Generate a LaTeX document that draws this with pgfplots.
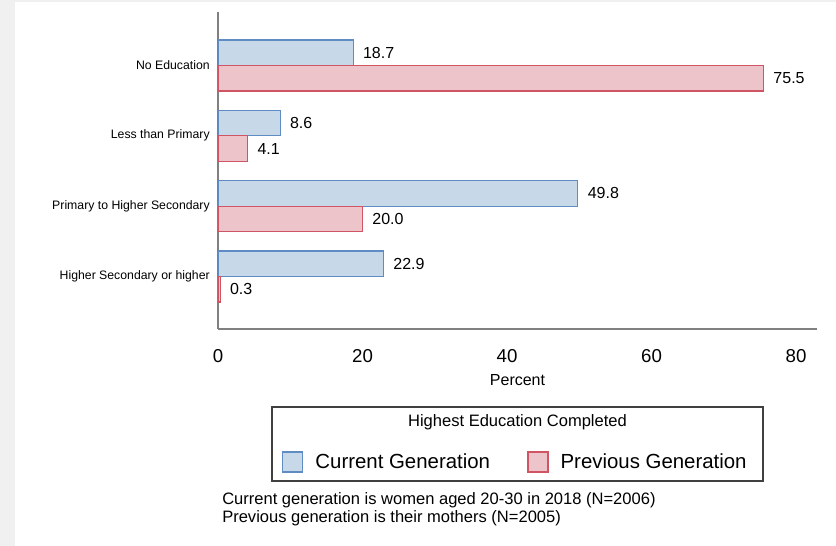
\documentclass[border=0pt]{standalone}
\usepackage{pgfplots}
\pgfplotsset{compat=1.18}
\usepackage{fontspec}
\setmainfont{Liberation Sans}

\definecolor{curfill}{RGB}{199,216,232}
\definecolor{curedge}{RGB}{95,140,195}
\definecolor{prevfill}{RGB}{236,196,201}
\definecolor{prevedge}{RGB}{208,85,100}
\definecolor{axgray}{RGB}{128,128,128}

\begin{document}
\begin{tikzpicture}
% page background (1 unit = 1 px of the reference)
\begin{scope}[x=0.75pt,y=0.75pt]
  \fill[black!6] (0,0) rectangle (836,546);
  \fill[white] (15,0) rectangle (836,544);
\end{scope}

\begin{axis}[
    at={(163.5pt,162.75pt)}, anchor=south west,
    scale only axis, width=449.25pt, height=237.75pt,
    xbar, bar width=19.1pt,
    xmin=0, xmax=82.9,
    ymin=-0.76, ymax=3.746, y dir=reverse,
    axis x line*=bottom, axis y line*=left,
    axis line style={draw=axgray, line width=1.2pt},
    major tick length=0pt,
    xtick={0,20,40,60,80},
    ytick={0,1,2,3},
    yticklabels={No Education,Less than Primary,Primary to Higher Secondary,Higher Secondary or higher},
    /pgf/number format/assume math mode=true,
    xticklabel style={font=\fontsize{14}{16}\selectfont, anchor=center, yshift=-20.25pt},
    yticklabel style={font=\fontsize{9.2}{11}\selectfont, anchor=east, inner sep=0pt, xshift=-6pt},
    xlabel={Percent},
    xlabel style={font=\fontsize{12}{14}\selectfont, at={(axis description cs:0.5,0)}, anchor=center, yshift=-38.25pt},
    nodes near coords={\pgfmathprintnumber[fixed,zerofill,precision=1,assume math mode=true]{\pgfplotspointmeta}},
    nodes near coords style={font=\fontsize{12}{14}\selectfont, anchor=west, inner sep=0pt, xshift=7pt},
    legend columns=2,
    legend style={draw=none, fill=none, at={(axis description cs:0.10684,-0.41956)}, anchor=west,
      inner sep=0pt, font=\fontsize{15.3}{17}\selectfont,
      nodes={inner sep=0pt},
      /tikz/every odd column/.append style={column sep=9pt},
      /tikz/every even column/.append style={column sep=28pt}},
  ]
  \addplot[fill=curfill, draw=curedge, line width=0.9pt, bar shift=9.55pt,
    legend image code/.code={\draw[fill=curfill, draw=curedge, line width=0.9pt] (0pt,-7.5pt) rectangle (15pt,7.5pt);}]
    coordinates {(18.7,0) (8.6,1) (49.8,2) (22.9,3)};
  \addlegendentry{Current Generation}
  \addplot[fill=prevfill, draw=prevedge, line width=0.9pt, bar shift=-9.55pt,
    legend image code/.code={\draw[fill=prevfill, draw=prevedge, line width=0.9pt] (0pt,-7.5pt) rectangle (15pt,7.5pt);}]
    coordinates {(75.5,0) (4.1,1) (20.0,2) (0.3,3)};
  \addlegendentry{Previous Generation}
\end{axis}

\begin{scope}[x=0.75pt,y=0.75pt]
  \draw[black!75, line width=0.8pt] (272,65) rectangle (763,139);
  \node[font=\fontsize{12.4}{14}\selectfont] at (517.5,124) {Highest Education Completed};
  \node[font=\fontsize{12.4}{14}\selectfont, anchor=base west, inner sep=0pt] at (222,41) {Current generation is women aged 20-30 in 2018 (N=2006)};
  \node[font=\fontsize{12.4}{14}\selectfont, anchor=base west, inner sep=0pt] at (222,23) {Previous generation is their mothers (N=2005)};
\end{scope}
\end{tikzpicture}
\end{document}
